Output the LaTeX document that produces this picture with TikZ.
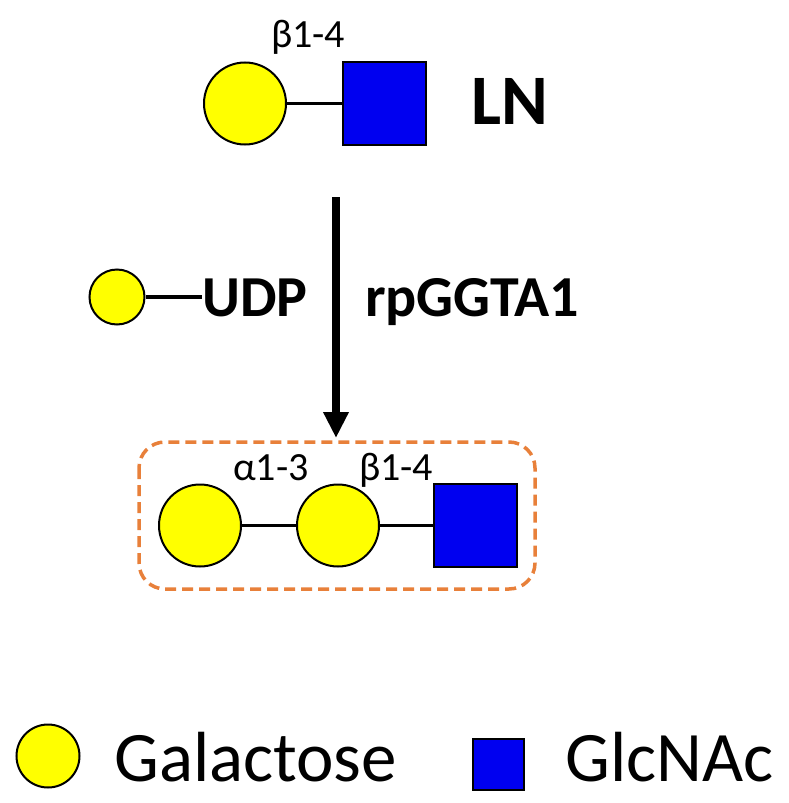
\documentclass[tikz,border=0pt]{standalone}
\usepackage{fontspec}
\setmainfont{Carlito}
\usetikzlibrary{arrows.meta}
\definecolor{galY}{HTML}{FFFF00}
\definecolor{glcB}{HTML}{0000F0}
\definecolor{boxO}{HTML}{E8803A}
\tikzset{
  gal/.style={circle,draw=black,line width=2pt,fill=galY,minimum size=#1,inner sep=0pt},
  glc/.style={rectangle,draw=black,line width=2pt,fill=glcB,minimum size=#1,inner sep=0pt},
  bond/.style={line width=2.5pt,black},
  lbl/.style={inner sep=0pt,font=\fontsize{40}{44}\selectfont},
  big/.style={inner sep=0pt,font=\fontsize{58}{64}\selectfont\bfseries},
  leg/.style={inner sep=0pt,font=\fontsize{71}{78}\selectfont},
}
\begin{document}
\begin{tikzpicture}[x=1pt,y=-1pt]
\useasboundingbox (0,0) rectangle (788,803);
% LN
\node[gal=82pt] (g1) at (245,103.5) {};
\node[glc=83pt] (n1) at (384.5,103.5) {};
\draw[bond] (g1) -- (n1);
\node[lbl,anchor=base west] (b1) at (271,47) {β1-4};
\node[inner sep=0pt,anchor=base west,font=\fontsize{71}{76}\selectfont\bfseries] (ln) at (471,124) {LN};
% arrow
\coordinate (as) at (336,197);
\coordinate (ae) at (336,438);
\draw[line width=8pt,-{Triangle[width=24pt,length=26pt]}] (as) -- (ae);
% UDP
\node[gal=55pt] (ug) at (117,297) {};
\node[big,anchor=base west] (udp) at (202,316) {UDP};
\draw[line width=4.5pt] (ug) -- (udp.west |- ug);
\node[big,anchor=base west] (enz) at (365,316) {rpGGTA1};
% product
\draw[boxO,line width=3.5pt,dash pattern=on 11pt off 6pt,rounded corners=26pt] (139,442) rectangle (535,589);
\node[gal=82pt] (g2) at (200,525.5) {};
\node[gal=82pt] (g3) at (338,525.5) {};
\node[glc=83pt] (n2) at (475.5,525.5) {};
\draw[bond] (g2) -- (g3);
\draw[bond] (g3) -- (n2);
\node[lbl,anchor=base west] (a13) at (233,480) {α1-3};
\node[lbl,anchor=base west] (b2) at (359,480) {β1-4};
% legend
\node[gal=63pt] (lg) at (48,756) {};
\node[leg,anchor=base west] (lgt) at (114,781) {Galactose};
\node[glc=51pt] (ls) at (498.5,764) {};
\node[leg,anchor=base west] (lst) at (565,781) {GlcNAc};
\end{tikzpicture}
\end{document}
